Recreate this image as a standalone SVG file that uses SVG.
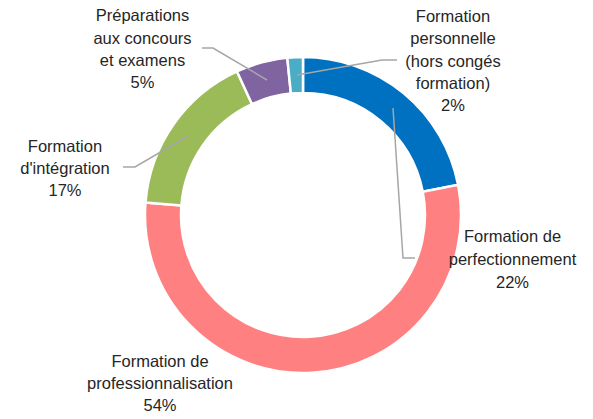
<svg xmlns="http://www.w3.org/2000/svg" width="593" height="419" viewBox="0 0 593 419">
<style>
.seg{stroke:#fff;stroke-width:2.5;stroke-linejoin:miter}
.lead{fill:none;stroke:#a6a6a6;stroke-width:1.5}
.lbl{font-family:"Liberation Sans",Arial,sans-serif;font-size:16.5px;fill:#262626;text-anchor:middle}
</style>
<rect width="593" height="419" fill="#fff"/>
<g id="seg-perfectionnement"><path class="seg" fill="#0070c0" d="M303,57 A158,158 0 0 1 458.1,184.85 L422.76,191.72 A122,122 0 0 0 303,93 Z"/></g>
<g id="seg-professionnalisation"><path class="seg" fill="#ff8080" d="M458.1,184.85 A158,158 0 1 1 145.49,202.6 L181.38,205.43 A122,122 0 1 0 422.76,191.72 Z"/></g>
<g id="seg-integration"><path class="seg" fill="#9bbb59" d="M145.49,202.6 A158,158 0 0 1 236.98,71.46 L252.02,104.16 A122,122 0 0 0 181.38,205.43 Z"/></g>
<g id="seg-preparations"><path class="seg" fill="#8064a2" d="M236.98,71.46 A158,158 0 0 1 287.31,57.78 L290.88,93.6 A122,122 0 0 0 252.02,104.16 Z"/></g>
<g id="seg-personnelle"><path class="seg" fill="#4bacc6" d="M287.31,57.78 A158,158 0 0 1 303,57 L303,93 A122,122 0 0 0 290.88,93.6 Z"/></g>
<g id="connectors">
<polyline class="lead" points="202,48 213,48 267,80"/>
<polyline class="lead" points="123,167 135,167 188,136"/>
<polyline class="lead" points="297,75 382,60 397,60"/>
<polyline class="lead" points="393,108 403,258 415,258"/>
</g>
<g id="label-preparations"><text class="lbl"><tspan x="142.5" y="21">Préparations</tspan><tspan x="142.5" y="44">aux concours</tspan><tspan x="142.5" y="66">et examens</tspan><tspan x="142.5" y="88">5%</tspan></text></g>
<g id="label-integration"><text class="lbl"><tspan x="65" y="152">Formation</tspan><tspan x="65" y="174">d'intégration</tspan><tspan x="65" y="196">17%</tspan></text></g>
<g id="label-personnelle"><text class="lbl"><tspan x="453" y="22">Formation</tspan><tspan x="453" y="44">personnelle</tspan><tspan x="453" y="66.5">(hors congés</tspan><tspan x="453" y="89">formation)</tspan><tspan x="453" y="111">2%</tspan></text></g>
<g id="label-perfectionnement"><text class="lbl"><tspan x="512.5" y="242">Formation de</tspan><tspan x="512.5" y="265">perfectionnement</tspan><tspan x="512.5" y="288">22%</tspan></text></g>
<g id="label-professionnalisation"><text class="lbl"><tspan x="160" y="367">Formation de</tspan><tspan x="160" y="389">professionnalisation</tspan><tspan x="160" y="411">54%</tspan></text></g>
</svg>
